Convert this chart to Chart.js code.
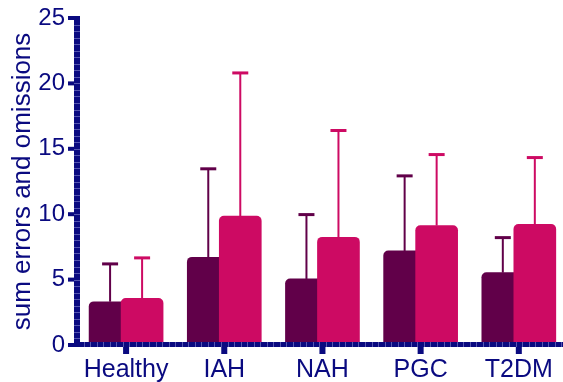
<!DOCTYPE html>
<html>
<head>
<meta charset="utf-8">
<script src="https://cdn.jsdelivr.net/npm/chart.js@4.4.1/dist/chart.umd.min.js"></script>
<style>
  html, body { margin: 0; padding: 0; background: #fff; }
  #wrap { width: 563px; height: 382px; }
</style>
</head>
<body>
<div id="wrap"><canvas id="errorsChart" width="563" height="382"></canvas></div>
<script>
const groups = ['Healthy', 'IAH', 'NAH', 'PGC', 'T2DM'];
const darkMeans = [3.31, 6.71, 5.05, 7.19, 5.53];
const darkSd = [2.89, 6.76, 4.92, 5.74, 2.68];
const pinkMeans = [3.57, 9.85, 8.24, 9.13, 9.23];
const pinkSd = [3.09, 10.95, 8.16, 5.43, 5.10];
const yTicks = [0, 5, 10, 15, 20, 25];

const NAVY = '#0a0a80';
const DARK = '#610049';
const PINK = '#cd0a63';
const SHIFT = 0.163;

// upward-only error bars, drawn from the top of each bar
const errorBars = {
    id: 'errorBars',
    afterDatasetsDraw(chart) {
        const ctx = chart.ctx;
        const y = chart.scales.y;
        chart.data.datasets.forEach((ds, di) => {
            const meta = chart.getDatasetMeta(di);
            meta.data.forEach((bar, i) => {
                const top = y.getPixelForValue(ds.data[i].y + ds.sd[i]);
                ctx.save();
                ctx.strokeStyle = ds.backgroundColor;
                ctx.lineWidth = 2;
                ctx.beginPath();
                ctx.moveTo(bar.x, bar.y);
                ctx.lineTo(bar.x, top);
                ctx.stroke();
                ctx.lineWidth = 3;
                ctx.beginPath();
                ctx.moveTo(bar.x - 8, top);
                ctx.lineTo(bar.x + 8, top);
                ctx.stroke();
                ctx.restore();
            });
        });
    }
};

// heavy axis lines with minor and major tick marks
const heavyAxes = {
    id: 'heavyAxes',
    afterDraw(chart) {
        const ctx = chart.ctx;
        const x = chart.scales.x;
        const y = chart.scales.y;
        const y0 = y.getPixelForValue(0);
        const yTop = y.getPixelForValue(25);
        ctx.save();
        ctx.fillStyle = NAVY;
        ctx.fillRect(74, yTop - 2, 6, y0 - yTop + 4);
        ctx.fillRect(74, y0 - 3, x.right - 74, 5);
        yTicks.forEach(v => {
            const py = y.getPixelForValue(v);
            ctx.fillRect(68, py - 2, 6, 4);
        });
        groups.forEach((g, i) => {
            const px = x.getPixelForValue(i);
            ctx.fillRect(px - 3, y0 + 2, 6, 7);
        });
        ctx.strokeStyle = 'rgba(150,150,215,0.55)';
        ctx.lineWidth = 1;
        for (let v = 0.5; v < 25; v += 0.5) {
            const py = Math.round(y.getPixelForValue(v)) + 0.5;
            ctx.beginPath();
            ctx.moveTo(74, py);
            ctx.lineTo(80, py);
            ctx.stroke();
        }
        for (let v = x.min + 1 / 15; v < x.max; v += 1 / 15) {
            const px = Math.round(x.getPixelForValue(v)) + 0.5;
            if (px < 81) continue;
            ctx.beginPath();
            ctx.moveTo(px, y0 - 3);
            ctx.lineTo(px, y0 + 2);
            ctx.stroke();
        }
        ctx.restore();
    }
};

new Chart(document.getElementById('errorsChart').getContext('2d'), {
    type: 'bar',
    data: {
        datasets: [{
            label: 'dark',
            data: darkMeans.map((v, i) => ({ x: i - SHIFT, y: v })),
            sd: darkSd,
            backgroundColor: DARK,
            order: 1
        }, {
            label: 'pink',
            data: pinkMeans.map((v, i) => ({ x: i + SHIFT, y: v })),
            sd: pinkSd,
            backgroundColor: PINK,
            order: 0
        }]
    },
    options: {
        responsive: false,
        animation: false,
        layout: { padding: { top: 18, right: 0, left: 0, bottom: 0 } },
        datasets: {
            bar: {
                grouped: false,
                barThickness: 42,
                borderRadius: { topLeft: 5, topRight: 5 },
                borderSkipped: 'bottom'
            }
        },
        plugins: {
            legend: { display: false },
            tooltip: { enabled: false }
        },
        scales: {
            x: {
                type: 'linear',
                offset: false,
                min: -0.5,
                max: 4.45,
                afterBuildTicks: s => { s.ticks = groups.map((g, i) => ({ value: i })); },
                afterFit: s => { s.height = 37; s.paddingLeft = 0; s.paddingRight = 0; },
                grid: { display: false, drawTicks: false, offset: false },
                border: { display: false },
                ticks: {
                    color: NAVY,
                    font: { family: 'Liberation Sans, Arial, sans-serif', size: 25 },
                    padding: 10,
                    maxRotation: 0,
                    autoSkip: false,
                    callback: v => groups[v]
                }
            },
            y: {
                min: 0,
                max: 25,
                afterBuildTicks: s => { s.ticks = yTicks.map(v => ({ value: v })); },
                afterFit: s => { s.width = 77; s.paddingTop = 0; s.paddingBottom = 0; },
                grid: { display: false, drawTicks: false },
                border: { display: false },
                ticks: {
                    color: NAVY,
                    font: { family: 'Liberation Sans, Arial, sans-serif', size: 24 },
                    padding: 12
                },
                title: {
                    display: true,
                    text: 'sum errors and omissions',
                    color: NAVY,
                    font: { family: 'Liberation Sans, Arial, sans-serif', size: 26 },
                    padding: { top: 7, bottom: 0 }
                }
            }
        }
    },
    plugins: [errorBars, heavyAxes]
});
</script>
</body>
</html>
